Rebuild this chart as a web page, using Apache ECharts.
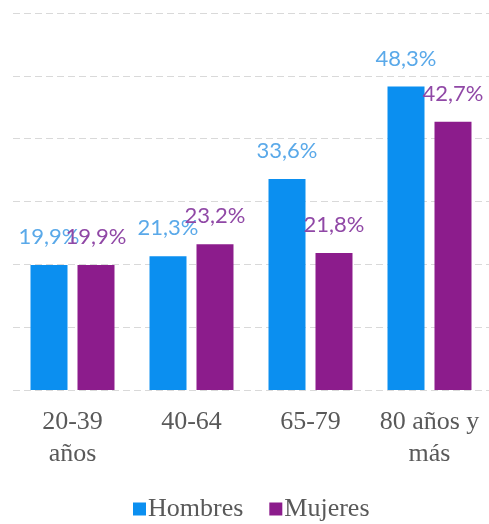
<!DOCTYPE html>
<html>
<head>
<meta charset="utf-8">
<script src="https://cdn.jsdelivr.net/npm/echarts@6/dist/echarts.min.js"></script>
<style>
  html, body { margin: 0; padding: 0; background: #ffffff; }
  #chart { width: 489px; height: 524px; }
</style>
</head>
<body>
<div id="chart"></div>
<script>
// Age groups and share (%) per sex
const categories = ['20-39\naños', '40-64', '65-79', '80 años y\nmás'];
const hombres = [19.9, 21.3, 33.6, 48.3];
const mujeres = [19.9, 23.2, 21.8, 42.7];
const seriesNames = ['Hombres', 'Mujeres'];

const fmt = p => p.value.toFixed(1).replace('.', ',') + '%';

const chart = echarts.init(document.getElementById('chart'), null, { renderer: 'canvas' });

const labelBase = {
  show: true,
  position: 'top',
  distance: 17,
  fontFamily: 'Lato, "Noto Sans", sans-serif',
  fontSize: 22,
  formatter: fmt
};

chart.setOption({
  animation: false,
  backgroundColor: '#ffffff',
  grid: { left: 13, top: 13, width: 478, bottom: 134, containLabel: false },
  legend: {
    data: seriesNames,
    left: 128,
    top: 491,
    icon: 'rect',
    itemWidth: 13,
    itemHeight: 13,
    itemGap: 26,
    textStyle: {
      fontFamily: '"Liberation Serif", serif',
      fontSize: 26,
      color: '#595959',
      padding: [0, 0, 0, -3]
    }
  },
  xAxis: {
    type: 'category',
    data: categories,
    axisLine: { show: false },
    axisTick: { show: false },
    axisLabel: {
      margin: 16,
      fontFamily: '"Liberation Serif", serif',
      fontSize: 26,
      lineHeight: 32,
      color: '#595959',
      interval: 0
    }
  },
  yAxis: {
    type: 'value',
    min: 0,
    max: 60,
    interval: 10,
    axisLabel: { show: false },
    axisLine: { show: false },
    axisTick: { show: false },
    splitLine: {
      show: true,
      lineStyle: { color: '#d9d9d9', width: 1, type: [7, 4] }
    }
  },
  series: [
    {
      name: seriesNames[0],
      type: 'bar',
      data: hombres,
      barWidth: 37,
      barGap: '27%',
      itemStyle: { color: '#0b8ff0' },
      label: Object.assign({}, labelBase, { color: '#5aa9e9' })
    },
    {
      name: seriesNames[1],
      type: 'bar',
      data: mujeres,
      barWidth: 37,
      barGap: '27%',
      itemStyle: { color: '#8c1c8c' },
      label: Object.assign({}, labelBase, { color: '#9048a6' })
    }
  ]
});
</script>
</body>
</html>
